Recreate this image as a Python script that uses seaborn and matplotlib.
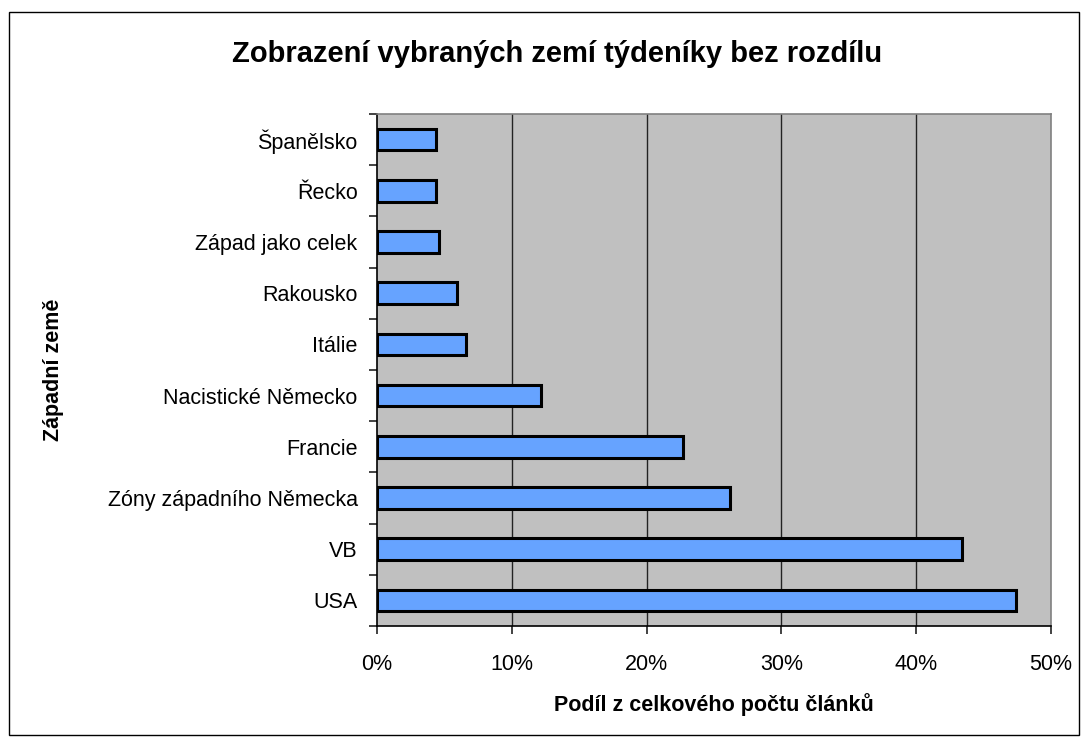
"""
Zobrazení vybraných zemí týdeníky bez rozdílu - horizontal bar chart.
"""

import matplotlib
matplotlib.use('Agg')
import matplotlib.pyplot as plt
from matplotlib.patches import Rectangle
from matplotlib.ticker import FixedLocator
import pandas as pd
import seaborn as sns

# Data (top to bottom as shown)
countries = ['Španělsko', 'Řecko', 'Západ jako celek', 'Rakousko', 'Itálie',
             'Nacistické Německo', 'Francie', 'Zóny západního Německa', 'VB', 'USA']
shares = [4.4, 4.4, 4.6, 5.9, 6.6, 12.2, 22.7, 26.2, 43.4, 47.4]
x_ticks = [0, 10, 20, 30, 40, 50]
x_tick_labels = [f'{t}%' for t in x_ticks]

TITLE = 'Zobrazení vybraných zemí týdeníky bez rozdílu'
X_LABEL = 'Podíl z celkového počtu článků'
Y_LABEL = 'Západní země'

sns.set_style('white')
plt.rcParams['font.family'] = ['Liberation Sans', 'DejaVu Sans']
plt.rcParams.update({'text.color': 'black', 'axes.labelcolor': 'black',
                     'xtick.color': 'black', 'ytick.color': 'black'})

df = pd.DataFrame({'country': countries, 'share': shares})

fig = plt.figure(figsize=(10.87, 7.45), dpi=100)
ax = fig.add_axes([377 / 1087, 1 - 626 / 745, (1051 - 377) / 1087, (626 - 114) / 745])
ax.set_facecolor('#C0C0C0')

# Gridlines behind bars
for t in x_ticks[1:-1]:
    ax.axvline(t, color='#222222', linewidth=1.0, zorder=0)

sns.barplot(data=df, x='share', y='country', orient='h', ax=ax,
            color='#66A3FF', saturation=1, edgecolor='black',
            linewidth=2.2, width=0.42, zorder=2)

ax.set_xlim(0, 50)
ax.set_ylim(9.5, -0.5)

# x axis
ax.set_xticks(x_ticks)
ax.set_xticklabels(x_tick_labels, fontsize=15.5)
ax.tick_params(axis='x', bottom=True, direction='out', length=6, width=1.2,
               color='#222222', pad=14)

# y axis: labels at centres, tick marks at category boundaries
ax.tick_params(axis='y', which='major', left=True, length=0, pad=14, labelsize=15.5)
ax.yaxis.set_minor_locator(FixedLocator([i - 0.5 for i in range(len(countries) + 1)]))
ax.tick_params(axis='y', which='minor', left=True, direction='out', length=6, width=1.2,
               color='#222222')

ax.set_xlabel(X_LABEL, fontsize=15.5, fontweight='bold', labelpad=13)
ax.set_ylabel(Y_LABEL, fontsize=15.5, fontweight='bold', labelpad=0)
ax.yaxis.set_label_coords(-0.465, 0.5)

for side in ['left', 'bottom']:
    ax.spines[side].set_color('black')
    ax.spines[side].set_linewidth(1.2)
for side in ['top', 'right']:
    ax.spines[side].set_color('#808080')
    ax.spines[side].set_linewidth(1.2)

fig.text(557 / 1087, 1 - 54 / 745, TITLE, fontsize=21, fontweight='bold',
         ha='center', va='center')

# Outer chart border
fig.patches.append(Rectangle((9 / 1087, 1 - 735 / 745), (1079 - 9) / 1087, (735 - 12) / 745,
                             transform=fig.transFigure, fill=False,
                             edgecolor='black', linewidth=1.0))

fig.savefig('out.png', dpi=100)
